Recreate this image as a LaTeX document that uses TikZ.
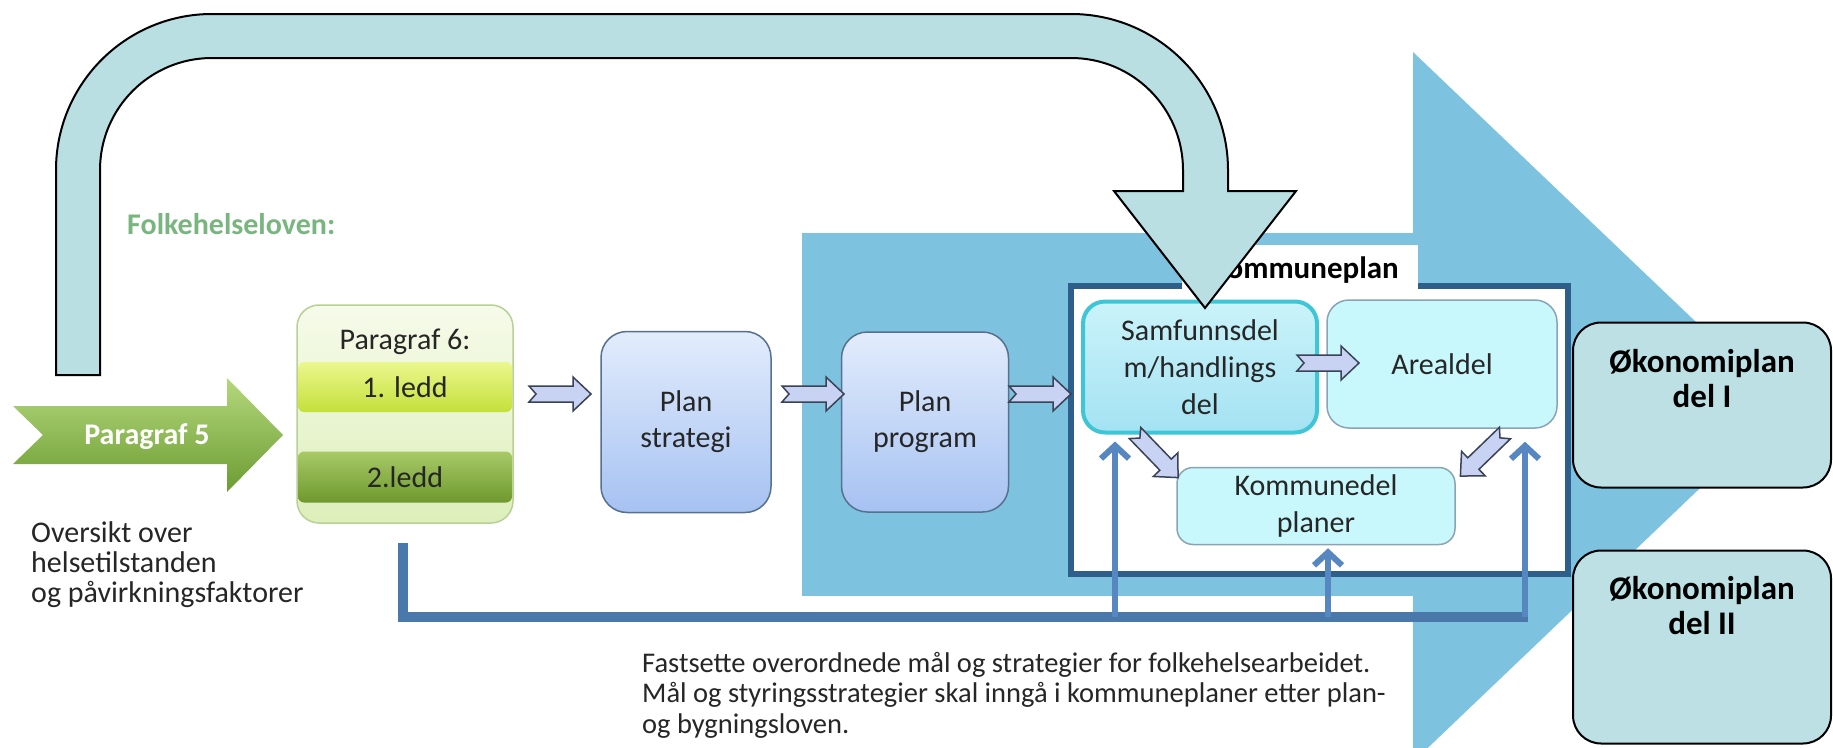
\documentclass[tikz,border=0pt]{standalone}
\usepackage{fontspec}
\setmainfont{Carlito}
\usetikzlibrary{arrows.meta,calc}
\definecolor{bgblue}{HTML}{7DC3DF}
\definecolor{ufill}{HTML}{BADFE3}
\definecolor{ecofill}{HTML}{BCE0E4}
\definecolor{framec}{HTML}{2E5E8A}
\definecolor{busc}{HTML}{4A78AA}
\definecolor{upc}{HTML}{5787C0}
\definecolor{fhgreen}{HTML}{79B57E}
\definecolor{plantop}{HTML}{E2ECFC}
\definecolor{planbot}{HTML}{A6C2F2}
\definecolor{planborder}{HTML}{56708E}
\definecolor{samftop}{HTML}{CAF3FA}
\definecolor{samfbot}{HTML}{A4E2F2}
\definecolor{samfborder}{HTML}{3EC6D6}
\definecolor{arealfill}{HTML}{C8F8FC}
\definecolor{arealborder}{HTML}{8AA4B4}
\definecolor{barfill}{HTML}{C8D2F2}
\definecolor{barborder}{HTML}{3A4256}
\definecolor{ptop}{HTML}{F6FBEA}
\definecolor{pbot}{HTML}{DDEFBA}
\definecolor{pborder}{HTML}{B8D096}
\definecolor{bonetop}{HTML}{EBF78E}
\definecolor{bonebot}{HTML}{C4E03A}
\definecolor{btwotop}{HTML}{A8CA68}
\definecolor{btwobot}{HTML}{6E992E}
\definecolor{gtop}{HTML}{B4D87C}
\definecolor{gbot}{HTML}{6C9C32}
\definecolor{txt}{HTML}{262626}
\tikzset{
  plan/.style={draw=planborder, line width=1.5, rounded corners=26, top color=plantop, bottom color=planbot,
    align=center, font=\fontsize{30}{36}\selectfont, text=txt, inner sep=0},
  kbox/.style={draw=arealborder, line width=1.5, rounded corners=22, fill=arealfill,
    align=center, font=\fontsize{30}{37}\selectfont, text=txt, inner sep=0},
  samfbox/.style={kbox, draw=samfborder, line width=4, top color=samftop, bottom color=samfbot},
  band/.style={rounded corners=6, align=center, font=\fontsize{30}{36}\selectfont, text=txt, inner sep=0},
  ecobox/.style={draw=black, line width=2, rounded corners=28, fill=ecofill, inner sep=0},
  ecotext/.style={align=center, font=\fontsize{33}{35}\selectfont\bfseries, text=black, inner sep=0},
  barrow/.style={fill=barfill, draw=barborder, line width=1.5, line join=miter},
  blockarr/.pic={\draw[barrow] (0,-8) -- (44,-8) -- (44,-17) -- (62,0) -- (44,17) -- (44,8) -- (0,8) -- (7,0) -- cycle;},
  bus/.style={draw=busc, line width=10, line join=miter},
  uparr/.style={draw=upc, line width=6, -{Straight Barb[length=13pt,width=28pt]}},
  uturn/.style={fill=ufill, draw=black, line width=2, line join=miter},
  bodytext/.style={align=left, text=txt, inner sep=0},
}
\begin{document}
\begin{tikzpicture}[x=1pt,y=-1pt]
\useasboundingbox (0,0) rectangle (1833,747);
\clip (0,0) rectangle (1833,747);
\fill[white] (0,0) rectangle (1833,747);

% big background arrow
\fill[bgblue] (802,233) rectangle (1414,596);
\fill[bgblue] (1413,52) -- (1785,407) -- (1413,762) -- cycle;

% Kommuneplan frame and tab
\draw[draw=framec, line width=6, fill=white] (1071,286) rectangle (1568,574);
\fill[white] (1182,245) rectangle (1418,289);
\node[anchor=base east, font=\fontsize{31}{36}\selectfont\bfseries, inner sep=0] (klabel) at (1399,278) {Kommuneplan};

% title
\node[anchor=base west, font=\fontsize{30}{36}\selectfont\bfseries, text=fhgreen, inner sep=0] (title) at (127,234) {Folkehelseloven:};

% Paragraf 5 arrow
\shade[top color=gtop, bottom color=gbot] (13,406) -- (227,406) -- (227,378) -- (283,435) -- (227,492) -- (227,464) -- (13,464) -- (43,435) -- cycle;
\node[font=\fontsize{30}{36}\selectfont\bfseries, text=white, inner sep=0] (p5) at (147,437) {Paragraf 5};

\node[bodytext, anchor=north west, font=\fontsize{30}{30}\selectfont] (oversikt) at (31,521) {Oversikt over\\helsetilstanden\\og påvirkningsfaktorer};

% Paragraf 6 box
\node[draw=pborder, line width=1.5, rounded corners=22, top color=ptop, bottom color=pbot, minimum width=216, minimum height=218, inner sep=0] (p6) at (405,414) {};
\node[font=\fontsize{30}{36}\selectfont, text=txt, inner sep=0, anchor=base] (p6t) at (405,349) {Paragraf 6:};
\node[band, top color=bonetop, bottom color=bonebot, minimum width=214, minimum height=50] (l1) at (405,387) {1. ledd};
\node[band, top color=btwotop, bottom color=btwobot, minimum width=214, minimum height=51] (l2) at (405,477) {2.ledd};

% plan boxes
\node[plan, minimum width=170, minimum height=181] (ps) at (686,422) {Plan\\strategi};
\node[plan, minimum width=167, minimum height=180] (pp) at (925,422) {Plan\\program};

% kommuneplan boxes
\node[samfbox, minimum width=234, minimum height=131] (samf) at (1200,367) {Samfunnsdel\\m/handlings\\del};
\node[kbox, minimum width=230, minimum height=128] (areal) at (1442,364) {Arealdel};
\node[kbox, rounded corners=16, minimum width=278, minimum height=77] (kdel) at (1316,506) {Kommunedel\\planer};

% block arrows
\pic at (529,394) {blockarr};
\pic at (782,394) {blockarr};
\pic at (1009,394) {blockarr};
\pic at (1297,363) {blockarr};
\pic[rotate=-46] at (1135,433) {blockarr};
\pic[rotate=-136] at (1505,433) {blockarr};

% bus connectors
\coordinate (busA) at (403,543);
\coordinate (busB) at (1528,617);
\draw[bus] (busA) |- (busB);
\coordinate (up1) at (1115,617);
\coordinate (up2) at (1328,617);
\coordinate (up3) at (1525,617);
\path (up1 |- samf.south) ++(0,7) coordinate (t1);
\path (up2 |- kdel.south) ++(0,3) coordinate (t2);
\path (up3 |- areal.south) ++(0,13) coordinate (t3);
\draw[uparr] (up1) -- (t1);
\draw[uparr] (up2) -- (t2);
\draw[uparr] (up3) -- (t3);

% bottom text
\node[bodytext, anchor=north west, font=\fontsize{28.5}{30.5}\selectfont] (fast) at (642,652) {Fastsette overordnede mål og strategier for folkehelsearbeidet.\\Mål og styringsstrategier skal inngå i kommuneplaner etter plan-\\og bygningsloven.};

% U-turn arrow
\draw[uturn] (56,375) -- (56,170) .. controls (56,83.8) and (125.8,14) .. (212,14) -- (1071,14)
  .. controls (1157.7,14) and (1228,84.3) .. (1228,170) -- (1228,191) -- (1296,191) -- (1205,308)
  -- (1114,191) -- (1183,191) -- (1183,170) .. controls (1183,108.1) and (1132.9,58) .. (1071,58)
  -- (212,58) .. controls (150.1,58) and (100,108.1) .. (100,170) -- (100,375) -- cycle;

% Okonomiplan boxes
\node[ecobox, minimum width=258, minimum height=165] (eco1) at (1702,405) {};
\node[ecotext] (eco1t) at (1702,379) {Økonomiplan\\del I};
\node[ecobox, minimum width=258, minimum height=193] (eco2) at (1702,647) {};
\node[ecotext] (eco2t) at (1702,606) {Økonomiplan\\del II};
\end{tikzpicture}
\end{document}
